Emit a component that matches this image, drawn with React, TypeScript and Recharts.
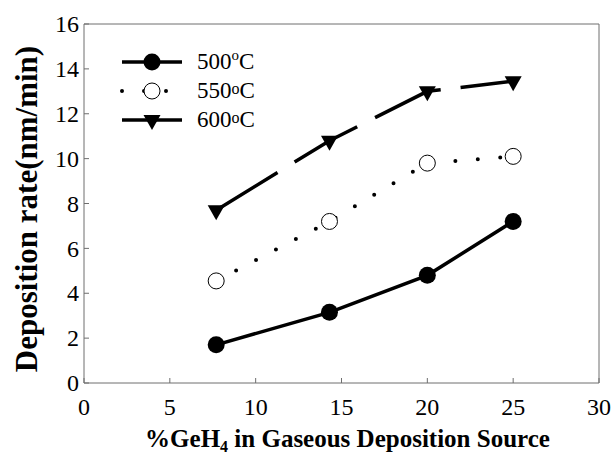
import { LineChart, Line, XAxis, YAxis, Legend, ReferenceLine } from 'recharts';

const geh4Percent = [7.7, 14.3, 20, 25];
const rate500 = [1.7, 3.15, 4.8, 7.2];
const rate550 = [4.55, 7.2, 9.8, 10.1];
const rate600 = [7.7, 10.8, 13.0, 13.45];
const xTicks = [0, 5, 10, 15, 20, 25, 30];
const yTicks = [0, 2, 4, 6, 8, 10, 12, 14, 16];

const data = geh4Percent.map((x, i) => ({
  x,
  r500: rate500[i],
  r550: rate550[i],
  r600: rate600[i],
}));

const FONT = 'Liberation Serif';
const FRAME = '#6e6e6e';

const FilledDot = (p: any) => <circle cx={p.cx} cy={p.cy} r={8.5} fill="#000" stroke="none" />;
const OpenDot = (p: any) => <circle cx={p.cx} cy={p.cy} r={8} fill="#fff" stroke="#000" strokeWidth={1} />;
const TriDot = (p: any) => (
  <polygon
    points={`${p.cx - 8.5},${p.cy - 5} ${p.cx + 8.5},${p.cy - 5} ${p.cx},${p.cy + 10}`}
    fill="#000"
  />
);

const XTick = (p: any) => (
  <text x={p.x} y={p.y} dy="0.71em" textAnchor="middle" fontFamily={FONT} fontSize={24} fill="#000">
    {p.payload.value}
  </text>
);
const YTick = (p: any) => (
  <text x={p.x} y={p.y} dy="0.34em" textAnchor="end" fontFamily={FONT} fontSize={24} fill="#000">
    {p.payload.value}
  </text>
);

const legendRows = [
  { key: 'r500', sup: true, label: '500', dash: undefined, width: 3.5, cap: 'butt', Marker: FilledDot },
  { key: 'r550', sup: false, label: '550', dash: '0 22', width: 4, cap: 'round', Marker: OpenDot },
  { key: 'r600', sup: false, label: '600', dash: undefined, width: 3.5, cap: 'butt', Marker: TriDot },
];

function LegendBox() {
  return (
    <svg width={160} height={90} style={{ overflow: 'visible', display: 'block' }}>
      {legendRows.map((row, i) => {
        const y = 10 + i * 29;
        const M = row.Marker;
        return (
          <g key={row.key}>
            <line x1={0} x2={60} y1={y} y2={y} stroke="#000" strokeWidth={row.width}
              strokeDasharray={row.dash} strokeLinecap={row.cap as any} />
            <M cx={30} cy={y} />
            <text x={75} y={y + 7} fontFamily={FONT} fontSize={23} fill="#000">
              {row.label}
              {row.sup ? (
                <tspan fontSize={15} dy={-9}>o</tspan>
              ) : (
                <tspan fontSize={16} dy={-4}>o</tspan>
              )}
              <tspan dy={row.sup ? 9 : 4}>C</tspan>
            </text>
          </g>
        );
      })}
    </svg>
  );
}

export default function App() {
  return (
    <div style={{ position: 'absolute', left: 0, top: 0, width: 612, height: 459, background: '#fff', fontFamily: FONT }}>
      <LineChart width={612} height={459} data={data} margin={{ top: 24, right: 13, bottom: 0, left: 0 }}>
        <XAxis
          type="number"
          dataKey="x"
          domain={[0, 30]}
          ticks={xTicks}
          height={76}
          stroke={FRAME}
          tickSize={-5}
          tickMargin={20}
          tick={<XTick />}
          label={{
            content: (props: any) => {
              const vb = props.viewBox;
              return (
                <text x={vb.x + vb.width / 2 + 6} y={447} textAnchor="middle" fontFamily={FONT}
                  fontWeight="bold" fontSize={25} fill="#000">
                  %GeH<tspan fontSize={16} dy={5}>4</tspan><tspan dy={-5}> in Gaseous Deposition Source</tspan>
                </text>
              );
            },
          }}
        />
        <YAxis
          type="number"
          domain={[0, 16]}
          ticks={yTicks}
          width={84}
          stroke={FRAME}
          tickSize={-5}
          tickMargin={10}
          tick={<YTick />}
          label={{
            content: () => (
              <text x={0} y={0} transform="translate(37,209) rotate(-90)" textAnchor="middle"
                fontFamily={FONT} fontWeight="bold" fontSize={31} fill="#000">
                Deposition rate(nm/min)
              </text>
            ),
          }}
        />
        <ReferenceLine y={16} stroke={FRAME} strokeWidth={1} />
        <ReferenceLine x={30} stroke={FRAME} strokeWidth={1} />
        <Legend
          layout="horizontal"
          verticalAlign="middle"
          align="center"
          wrapperStyle={{ position: 'absolute', left: 122, top: 52, width: 160, height: 90 }}
          content={() => <LegendBox />}
        />
        <Line dataKey="r500" name="500oC" stroke="#000" strokeWidth={3.5} dot={<FilledDot />}
          activeDot={false} isAnimationActive={false} />
        <Line dataKey="r550" name="550oC" stroke="#000" strokeWidth={4} strokeDasharray="0 22.5"
          strokeLinecap="round" dot={<OpenDot />} activeDot={false} isAnimationActive={false} />
        <Line dataKey="r600" name="600oC" stroke="#000" strokeWidth={3.5} strokeDasharray="72 20"
          dot={<TriDot />} activeDot={false} isAnimationActive={false} />
      </LineChart>
    </div>
  );
}
